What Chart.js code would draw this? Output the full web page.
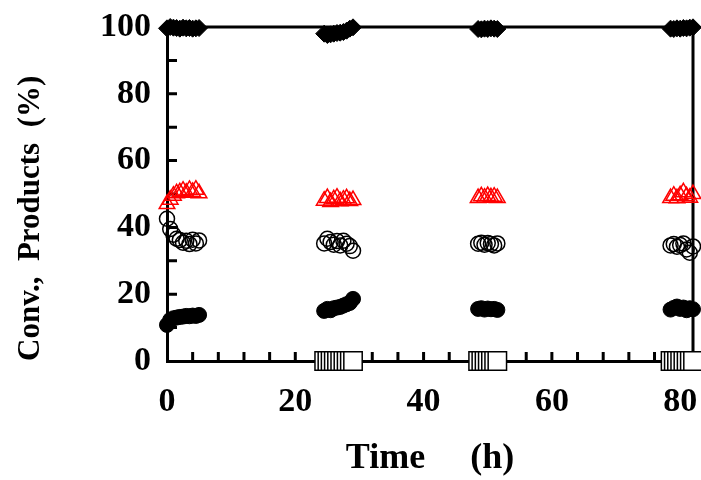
<!DOCTYPE html>
<html>
<head>
<meta charset="utf-8">
<script src="https://cdn.jsdelivr.net/npm/chart.js@4.4.1/dist/chart.umd.min.js"></script>
<style>
  html, body { margin: 0; padding: 0; background: #fff; overflow: hidden; }
  #wrap { width: 701px; height: 480px; }
  canvas { display: block; }
</style>
</head>
<body>
<div id="wrap"><canvas id="chart" width="701" height="480"></canvas></div>
<script>
// time on stream (h), four runs
const times = [
  0, 0.5, 1, 1.5, 2, 2.5, 3, 3.5, 4, 4.5, 5,
  24.5, 25, 25.5, 26, 26.5, 27, 27.5, 28, 28.5, 29,
  48.5, 49, 49.5, 50, 50.5, 51, 51.5,
  78.5, 79, 79.5, 80, 80.5, 81, 81.5, 82
];
// conversion (filled diamonds)
const conversion = [
  99.6, 100, 99.8, 99.7, 99.5, 99.8, 99.6, 99.7, 99.5, 99.6, 99.7,
  98.0, 97.6, 97.8, 98.0, 98.2, 98.3, 98.5, 98.9, 99.5, 99.9,
  99.4, 99.3, 99.5, 99.4, 99.6, 99.5, 99.4,
  99.5, 99.4, 99.6, 99.5, 99.7, 99.6, 99.8, 99.9
];
// product (red open triangles)
const productTri = [
  47.0, 48.3, 49.5, 50.2, 50.5, 51.0, 50.4, 51.2, 50.6, 51.3, 50.2,
  48.0, 48.8, 47.6, 48.4, 48.9, 47.8, 48.3, 48.7, 47.9, 48.2,
  48.8, 49.3, 48.9, 49.4, 49.0, 49.2, 48.8,
  48.8, 49.5, 48.7, 49.6, 50.5, 49.3, 48.9, 50.0
];
// product (open circles)
const productOpen = [
  42.6, 39.5, 37.8, 36.6, 36.2, 35.4, 36.0, 35.0, 36.3, 35.2, 36.1,
  35.2, 36.6, 35.6, 34.8, 35.9, 34.6, 36.0, 35.1, 34.4, 33.0,
  35.1, 35.4, 34.8, 35.3, 35.0, 34.6, 35.2,
  34.6, 35.0, 34.2, 34.7, 35.2, 33.4, 32.4, 34.3
];
// product (filled circles)
const productFilled = [
  10.8, 12.3, 12.8, 13.0, 13.2, 13.3, 13.5, 13.4, 13.6, 13.5, 13.8,
  15.0, 15.6, 15.2, 15.8, 16.0, 16.2, 16.6, 17.0, 17.4, 18.6,
  15.6, 15.8, 15.4, 15.7, 15.5, 15.6, 15.3,
  15.4, 15.9, 16.3, 15.6, 16.0, 15.2, 15.8, 15.5
];
// product (open squares), not measured in first run
const productSquare = [
  null, null, null, null, null, null, null, null, null, null, null,
  0, 0, 0, 0, 0, 0, 0, 0, 0, 0,
  0, 0, 0, 0, 0, 0, 0,
  0, 0, 0, 0, 0, 0, 0, 0
];
const xLabels = [0, 20, 40, 60, 80];
const yLabels = [0, 20, 40, 60, 80, 100];

const FONT = "'Liberation Serif', 'Times New Roman', serif";

function pts(ys) {
  return times.map((t, i) => ({ x: t, y: ys[i] })).filter(p => p.y !== null);
}

// frame on top/right + inward ticks
const frameTicks = {
  id: 'frameTicks',
  beforeDatasetsDraw(chart) {
    const { ctx, chartArea: a, scales: { x, y } } = chart;
    ctx.save();
    ctx.strokeStyle = '#000';
    ctx.lineWidth = 3;
    ctx.beginPath();
    ctx.moveTo(a.left, a.top); ctx.lineTo(a.right, a.top);
    ctx.moveTo(a.right, a.top); ctx.lineTo(a.right, a.bottom);
    ctx.stroke();
    ctx.beginPath();
    x.ticks.forEach(t => {
      if (t.value % 4 !== 0 || t.value === 0) return;
      const px = x.getPixelForValue(t.value);
      ctx.moveTo(px, a.bottom); ctx.lineTo(px, a.bottom - 9);
    });
    y.ticks.forEach(t => {
      if (t.value === 0 || t.value === 100) return;
      const py = y.getPixelForValue(t.value);
      ctx.moveTo(a.left, py); ctx.lineTo(a.left + 10, py);
    });
    ctx.stroke();
    ctx.restore();
  }
};

const ctx = document.getElementById('chart').getContext('2d');
new Chart(ctx, {
  type: 'scatter',
  data: {
    datasets: [
      { label: 'Squares', data: pts(productSquare), pointStyle: 'rect', pointRadius: 13,
        backgroundColor: '#fff', borderColor: '#000', pointBorderWidth: 1.5 },
      { label: 'Filled', data: pts(productFilled), pointStyle: 'circle', pointRadius: 7.5,
        backgroundColor: '#000', borderColor: '#000', pointBorderWidth: 1 },
      { label: 'Open', data: pts(productOpen), pointStyle: 'circle', pointRadius: 7.5,
        backgroundColor: 'rgba(0,0,0,0)', borderColor: '#000', pointBorderWidth: 1.5 },
      { label: 'Triangles', data: pts(productTri), pointStyle: 'triangle', pointRadius: 9,
        backgroundColor: 'rgba(0,0,0,0)', borderColor: '#ff0000', pointBorderWidth: 1.5 },
      { label: 'Conversion', data: pts(conversion), pointStyle: 'rectRot', pointRadius: 8.5,
        backgroundColor: '#000', borderColor: '#000', pointBorderWidth: 1 }
    ]
  },
  options: {
    responsive: false,
    animation: false,
    clip: false,
    layout: { autoPadding: false, padding: { top: 27, right: 8, left: 0, bottom: 0 } },
    plugins: { legend: { display: false }, tooltip: { enabled: false } },
    scales: {
      x: {
        type: 'linear', min: 0, max: 82,
        afterFit(s) { s.height = 119; s.paddingLeft = 0; s.paddingRight = 0; },
        grid: { display: false, drawTicks: false },
        border: { display: true, color: '#000', width: 3 },
        ticks: {
          stepSize: 4, padding: 21, color: '#000', maxRotation: 0, autoSkip: false, includeBounds: false,
          font: { family: FONT, size: 34, weight: 'bold' },
          callback: v => xLabels.includes(v) ? String(v) : ''
        },
        title: {
          display: true, text: 'Time     (h)', color: '#000', padding: { top: -7, bottom: 0 },
          font: { family: FONT, size: 36, weight: 'bold' }
        }
      },
      y: {
        min: 0, max: 100,
        afterFit(s) { s.width = 167; s.paddingTop = 0; s.paddingBottom = 0; },
        grid: { display: false, drawTicks: false },
        border: { display: true, color: '#000', width: 3 },
        ticks: {
          stepSize: 10, padding: 16, color: '#000', autoSkip: false,
          font: { family: FONT, size: 34, weight: 'bold' },
          callback: v => yLabels.includes(v) ? String(v) : ''
        },
        title: {
          display: true, text: 'Conv.,  Products  (%)', color: '#000', align: 'start',
          padding: { top: 12, bottom: 0 },
          font: { family: FONT, size: 31, weight: 'bold' }
        }
      }
    }
  },
  plugins: [frameTicks]
});
</script>
</body>
</html>
